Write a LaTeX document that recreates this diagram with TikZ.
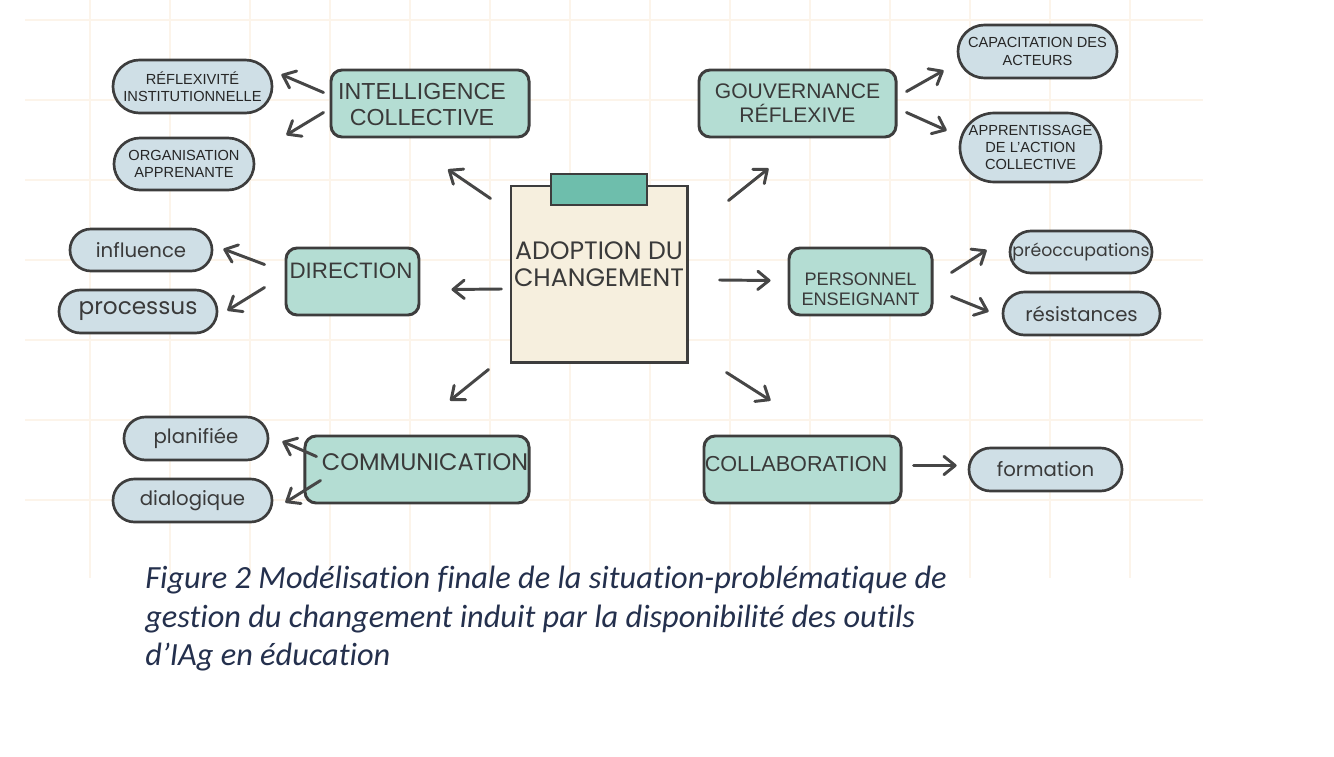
\documentclass[tikz,border=0pt]{standalone}
\usepackage{fontspec}
\setmainfont{Liberation Sans}
\newfontfamily\roundfont{Poppins}
\newfontfamily\captionfont[Ligatures=NoCommon]{Carlito}
\usetikzlibrary{arrows.meta, shapes.misc, positioning}

\definecolor{themefill}{HTML}{B4DDD3}
\definecolor{tabfill}{HTML}{6EBEAC}
\definecolor{leaffill}{HTML}{CFDFE6}
\definecolor{corefill}{HTML}{F6EFDE}
\definecolor{edge}{HTML}{3D3D3D}
\definecolor{arrowc}{HTML}{464646}
\definecolor{ink}{HTML}{3A3A3A}
\definecolor{gridc}{HTML}{FCF4EA}
\definecolor{captc}{HTML}{24304D}

\tikzset{
  theme/.style={draw=edge, fill=themefill, line width=2.1pt, rounded corners=0.28cm,
    text=ink, align=center, inner sep=0pt},
  themetext/.style={text=ink, align=center, inner sep=0pt},
  leaf/.style={rounded rectangle, draw=edge, fill=leaffill, line width=1.9pt,
    text=ink, align=center, inner sep=0pt},
  leafcaps/.style={leaf, text=black!85, font=\fontsize{10.4}{12.2}\selectfont},
  leafround/.style={leaf, font=\roundfont\fontsize{14}{16}\selectfont},
  arw/.style={draw=arrowc, line width=2.1pt, line cap=round,
    -{Straight Barb[length=8pt, width=13pt, round]}},
  gridline/.style={draw=gridc, line width=0.9pt},
  capt/.style={text=captc, align=left, inner sep=0pt,
    font=\captionfont\itshape\fontsize{23}{27.4}\selectfont}
}

\begin{document}
\begin{tikzpicture}[x=0.025cm, y=-0.025cm]
  \useasboundingbox (0, 0) rectangle (1334, 756);
  \fill[white] (0, 0) rectangle (1334, 756);

  % grid
  \foreach \gx in {90, 170, ..., 1130}
    \draw[gridline] (\gx, 0) -- (\gx, 578);
  \foreach \gy in {20, 100, ..., 500}
    \draw[gridline] (25, \gy) -- (1203, \gy);

  % centre
  \node[draw=edge, fill=corefill, line width=2.1pt, minimum width=4.4cm, minimum height=4.4cm] (adopt) at (599, 274) {};
  \node[draw=edge, fill=tabfill, line width=2.1pt, minimum width=2.4cm, minimum height=0.775cm] (tab) at (599, 189.5) {};
  \node[themetext, font=\roundfont\fontsize{17.9}{19.2}\selectfont] (adopttxt) at (599, 264) {ADOPTION DU\\CHANGEMENT};

  % intelligence collective
  \node[theme, minimum width=4.95cm, minimum height=1.675cm] (ic) at (430, 103.5) {};
  \node[themetext, font=\fontsize{16.5}{18.5}\selectfont] (ictxt) at (422, 105) {INTELLIGENCE\\COLLECTIVE};
  \node[leafcaps, minimum width=3.975cm, minimum height=1.325cm] (refl) at (192.5, 86.5) {RÉFLEXIVITÉ\\INSTITUTIONNELLE};
  \node[leafcaps, minimum width=3.5cm, minimum height=1.3cm] (org) at (184, 164) {ORGANISATION\\APPRENANTE};

  % gouvernance
  \node[theme, minimum width=4.925cm, minimum height=1.675cm, font=\fontsize{15}{17}\selectfont] (gr) at (797.5, 103.5) {GOUVERNANCE\\RÉFLEXIVE};
  \node[leafcaps, minimum width=3.975cm, minimum height=1.325cm] (capa) at (1037.5, 51.5) {CAPACITATION DES\\ACTEURS};
  \node[leafcaps, minimum width=3.525cm, minimum height=1.725cm] (appr) at (1030.5, 147.5) {APPRENTISSAGE\\DE L’ACTION\\COLLECTIVE};

  % direction
  \node[theme, minimum width=3.325cm, minimum height=1.675cm] (dir) at (352.5, 281.5) {};
  \node[themetext, font=\fontsize{15.9}{18}\selectfont] (dirtxt) at (351, 271) {DIRECTION};
  \node[leafround, minimum width=3.55cm, minimum height=1.05cm] (infl) at (141, 250) {influence};
  \node[leafround, minimum width=3.95cm, minimum height=1.075cm, font=\roundfont\fontsize{16.5}{18}\selectfont] (proc) at (138, 311.5) {processus};

  % personnel enseignant
  \node[theme, minimum width=3.575cm, minimum height=1.675cm] (pers) at (860.5, 281.5) {};
  \node[themetext, font=\fontsize{12.9}{14}\selectfont] (perstxt) at (860.5, 289) {PERSONNEL\\ENSEIGNANT};
  \node[leafround, minimum width=3.55cm, minimum height=1.05cm, font=\roundfont\fontsize{12.3}{14}\selectfont] (preo) at (1081, 252) {préoccupations};
  \node[leafround, minimum width=3.925cm, minimum height=1.075cm] (resi) at (1081.5, 313.5) {résistances};

  % communication
  \node[theme, minimum width=5.6cm, minimum height=1.675cm] (comm) at (417, 469.5) {};
  \node[themetext, font=\roundfont\fontsize{17}{19}\selectfont] (commtxt) at (425, 462) {COMMUNICATION};
  \node[leafround, minimum width=3.6cm, minimum height=1.075cm] (plan) at (196, 438.5) {planifiée};
  \node[leafround, minimum width=3.975cm, minimum height=1.075cm] (dial) at (192.5, 500.5) {dialogique};

  % collaboration
  \node[theme, minimum width=4.925cm, minimum height=1.675cm] (coll) at (802.5, 469.5) {};
  \node[themetext, font=\fontsize{15.4}{17}\selectfont] (colltxt) at (796, 464) {COLLABORATION};
  \node[leafround, minimum width=3.825cm, minimum height=1.075cm] (form) at (1045.5, 469.5) {formation};

  % arrows
  \draw[arw] ([shift={(-19, 14)}]adopt.north west) -- ([shift={(18, 31)}]ic.south);
  \draw[arw] ([shift={(-6, -11)}]ic.west) -- ([shift={(8, -12)}]refl.east);
  \draw[arw] ([shift={(-6, 9)}]ic.west) -- ([shift={(31, -29)}]org.east);

  \draw[arw] ([shift={(40, 16)}]adopt.north east) -- ([shift={(-29, 30)}]gr.south);
  \draw[arw] ([shift={(9, -12)}]gr.east) -- ([shift={(-13, 19)}]capa.west);
  \draw[arw] ([shift={(9, 9)}]gr.east) -- ([shift={(-12, -17)}]appr.west);

  \draw[arw] ([shift={(-8, 15)}]adopt.west) -- ([shift={(31, 8)}]dir.east);
  \draw[arw] ([shift={(-20, -17)}]dir.west) -- ([shift={(10, -1)}]infl.east);
  \draw[arw] ([shift={(-20, 6)}]dir.west) -- ([shift={(9, -1)}]proc.east);

  \draw[arw] ([shift={(31, 6)}]adopt.east) -- ([shift={(-17, -1)}]pers.west);
  \draw[arw] ([shift={(18, -9)}]pers.east) -- ([shift={(-22, -2)}]preo.west);
  \draw[arw] ([shift={(18, 15)}]pers.east) -- ([shift={(-13, -2)}]resi.west);

  \draw[arw] ([shift={(-21, 6)}]adopt.south west) -- ([shift={(33, -34)}]comm.north);
  \draw[arw] ([shift={(13, -13)}]comm.west) -- ([shift={(13, 3)}]plan.east);
  \draw[arw] ([shift={(17, 11)}]comm.west) -- ([shift={(12, 2)}]dial.east);

  \draw[arw] ([shift={(38, 9)}]adopt.south east) -- ([shift={(-32, -34)}]coll.north);
  \draw[arw] ([shift={(11, -4)}]coll.east) -- ([shift={(-11, -4)}]form.west);

  % caption
  \node[capt, anchor=north west] (fig) at (145, 566) {Figure 2 Modélisation finale de la situation-problématique de\\gestion du changement induit par la disponibilité des outils\\d’IAg en éducation};
\end{tikzpicture}
\end{document}
